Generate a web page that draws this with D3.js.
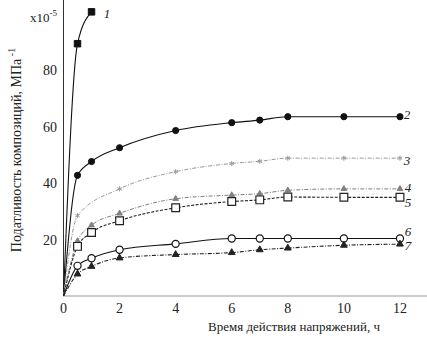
<!DOCTYPE html>
<html><head><meta charset="utf-8">
<script src="https://cdn.jsdelivr.net/npm/d3@7"></script>
<style>body{margin:0;background:#fff}svg{display:block}</style>
</head><body>
<svg id="c" width="427" height="346"></svg>
<script>
const xTicks = [0, 2, 4, 6, 8, 10, 12];
const yTicks = [20, 40, 60, 80];
const yUnitLabel = "x10";
const yUnitExp = "-5";
const xTitle = "Время действия напряжений, ч";
const yTitle = "Податливость композиций, МПа";

const t1 = [0, 0.5, 1];
const s1 = [0, 89.5, 100.8];
const tAll = [0, 0.5, 1, 2, 4, 6, 7, 8, 10, 12];
const s2 = [0, 42.8, 47.7, 52.6, 58.7, 61.5, 62.4, 63.6, 63.6, 63.6];
const t3 = [0, 0.5, 2, 4, 6, 7, 8, 10, 12];
const s3 = [0, 28.5, 38.0, 44.1, 47.0, 47.8, 48.9, 48.9, 48.9];
const s4 = [0, 19.5, 25.1, 29.3, 34.5, 35.8, 36.3, 37.5, 38.0, 38.0];
const s5 = [0, 17.6, 22.5, 26.7, 31.3, 33.5, 34.1, 35.1, 35.0, 35.0];
const s6 = [0, 10.7, 13.4, 16.4, 18.5, 20.4, 20.4, 20.4, 20.4, 20.4];
const s7 = [0, 7.8, 10.5, 13.5, 14.7, 15.4, 16.4, 17.0, 18.0, 18.4];
const curveLabels = ["1", "2", "3", "4", "5", "6", "7"];

const svg = d3.select("#c");
const x = d3.scaleLinear().domain([0, 13]).range([63.5, 428]);
const y = d3.scaleLinear().domain([0, 105]).range([296, 0]);
const serif = "'Liberation Serif', 'DejaVu Serif', serif";

// axes lines
svg.append("line").attr("x1", x(0)).attr("x2", 427).attr("y1", y(0)).attr("y2", y(0))
  .attr("stroke", "#9a9a9a").attr("stroke-width", 1.2);
svg.append("line").attr("x1", x(0)).attr("x2", x(0)).attr("y1", y(0)).attr("y2", 0)
  .attr("stroke", "#333").attr("stroke-width", 1);

// tick labels
svg.append("g").selectAll("text").data(xTicks).join("text")
  .attr("x", d => x(d)).attr("y", y(0) + 17).attr("text-anchor", "middle")
  .attr("font-family", serif).attr("font-size", 14).attr("fill", "#222").text(d => d);
svg.append("g").selectAll("text").data(yTicks).join("text")
  .attr("x", 57).attr("y", d => y(d) + 5).attr("text-anchor", "end")
  .attr("font-family", serif).attr("font-size", 14).attr("fill", "#222").text(d => d);
const u = svg.append("text").attr("x", 57).attr("y", y(100) + 8).attr("text-anchor", "end")
  .attr("font-family", serif).attr("font-size", 13).attr("fill", "#222");
u.append("tspan").text(yUnitLabel);
u.append("tspan").attr("dy", -6).attr("font-size", 9).text(yUnitExp);

// titles
svg.append("text").attr("x", 294).attr("y", 331).attr("text-anchor", "middle")
  .attr("font-family", serif).attr("font-size", 13).attr("fill", "#222").text(xTitle);
const yt = svg.append("text").attr("transform", "translate(21,150) rotate(-90)")
  .attr("text-anchor", "middle").attr("font-family", serif).attr("font-size", 14).attr("fill", "#222");
yt.append("tspan").text(yTitle);
yt.append("tspan").attr("dy", -6).attr("font-size", 10).text(" -1");

const line = d3.line().x(d => x(d[0])).y(d => y(d[1])).curve(d3.curveMonotoneX);
function series(ts, vs, opts) {
  const pts = ts.map((t, i) => [t, vs[i]]);
  svg.append("path").datum(pts).attr("d", line).attr("fill", "none")
    .attr("stroke", opts.color).attr("stroke-width", opts.width || 1.1)
    .attr("stroke-dasharray", opts.dash || null);
  const mk = pts.filter(p => p[0] > 0);
  svg.append("g").selectAll("path").data(mk).join("path")
    .attr("transform", d => `translate(${x(d[0])},${y(d[1])})`)
    .attr("d", d3.symbol(opts.sym, opts.size))
    .attr("fill", opts.fill).attr("stroke", opts.mstroke || opts.color).attr("stroke-width", opts.msw || 1);
}
series(t1, s1, {color: "#111", sym: d3.symbolSquare, size: 42, fill: "#111"});
series(tAll, s2, {color: "#111", sym: d3.symbolCircle, size: 30, fill: "#111"});
series(t3, s3, {color: "#999", dash: "4,1.5,1,1.5", width: 1, sym: d3.symbolAsterisk, size: 18, fill: "none", msw: 1});
series(tAll, s4, {color: "#808080", dash: "4,1.5,1,1.5", width: 1, sym: d3.symbolTriangle, size: 14, fill: "#808080"});
series(tAll, s5, {color: "#222", dash: "3,1.5", sym: d3.symbolSquare, size: 60, fill: "#fff", msw: 1.2});
series(tAll, s6, {color: "#111", sym: d3.symbolCircle, size: 40, fill: "#fff", msw: 1.2});
series(tAll, s7, {color: "#222", dash: "4,1.5,1,1.5", sym: d3.symbolTriangle, size: 20, fill: "#222"});

// curve labels (centres)
const labX = [107, 407, 407, 408, 408, 408, 408];
const labY = [13.5, 114, 160, 187.5, 202, 231.5, 245.5];
svg.append("g").selectAll("text").data(curveLabels).join("text")
  .attr("x", (d, i) => labX[i]).attr("y", (d, i) => labY[i] + 4.5)
  .attr("text-anchor", "middle")
  .attr("font-family", serif).attr("font-style", "italic").attr("font-size", 13).attr("fill", "#222")
  .text(d => d);
</script>
</body></html>
